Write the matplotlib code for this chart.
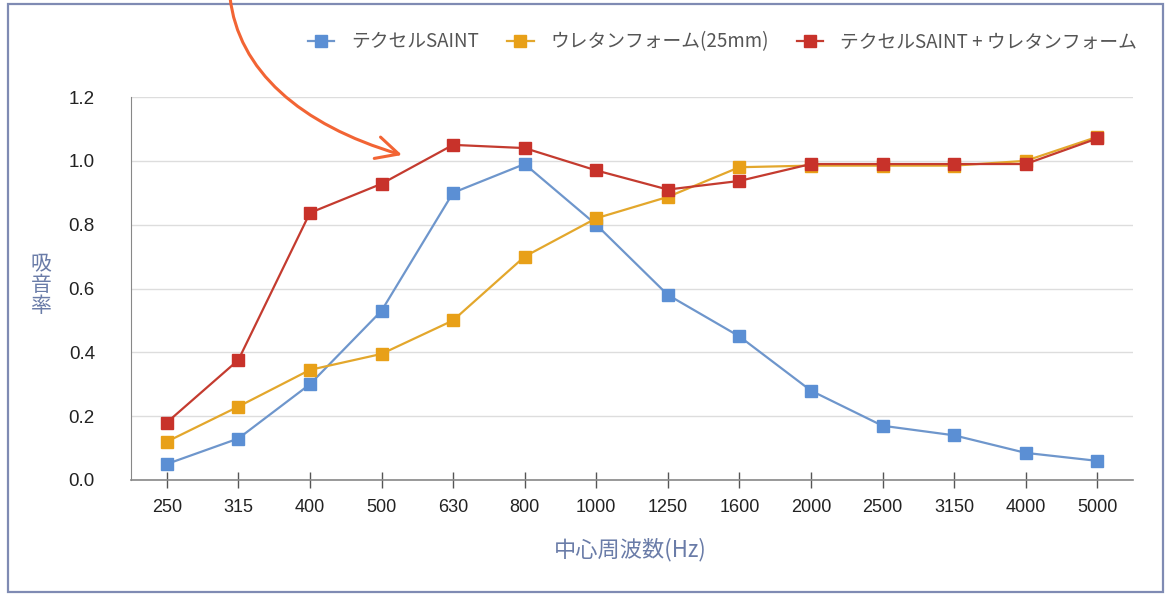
import matplotlib
matplotlib.use('Agg')
import matplotlib.pyplot as plt
from matplotlib.lines import Line2D
from matplotlib.patches import Rectangle, FancyArrowPatch
from matplotlib.path import Path

plt.rcParams['font.family'] = ['Noto Sans CJK JP', 'DejaVu Sans']

# data
freqs = ['250', '315', '400', '500', '630', '800', '1000', '1250',
         '1600', '2000', '2500', '3150', '4000', '5000']
saint = [0.05, 0.13, 0.30, 0.53, 0.90, 0.99, 0.80, 0.58,
         0.45, 0.28, 0.17, 0.14, 0.085, 0.06]
urethane = [0.12, 0.23, 0.345, 0.395, 0.50, 0.70, 0.82, 0.887,
            0.98, 0.985, 0.985, 0.985, 1.0, 1.075]
combined = [0.18, 0.376, 0.837, 0.928, 1.05, 1.04, 0.97, 0.91,
            0.937, 0.99, 0.99, 0.99, 0.99, 1.07]

labels = ['テクセルSAINT', 'ウレタンフォーム(25mm)', 'テクセルSAINT + ウレタンフォーム']
line_colors = ['#6e96cc', '#e3a72c', '#c43b2f']
marker_colors = ['#5b8fd4', '#e8a018', '#c8322a']
series = [saint, urethane, combined]

W, H = 1171, 594
fig = plt.figure(figsize=(W / 100, H / 100), dpi=100)
ax = fig.add_axes([131 / W, 1 - 480 / H, (1133 - 131) / W, (480 - 97) / H])

x = list(range(len(freqs)))
for vals, lc, mc in zip(series, line_colors, marker_colors):
    ax.plot(x, vals, color=lc, lw=1.6, marker='s', markersize=9,
            markerfacecolor=mc, markeredgecolor=mc, zorder=3)

ax.set_xlim(-0.5, len(freqs) - 0.5)
ax.set_ylim(0, 1.2)
ax.set_yticks([0.0, 0.2, 0.4, 0.6, 0.8, 1.0, 1.2])
ax.set_yticklabels(['0.0', '0.2', '0.4', '0.6', '0.8', '1.0', '1.2'],
                   family='Liberation Sans', fontsize=13.5, color='#222222')
ax.set_xticks(x)
ax.set_xticklabels(freqs, family='Liberation Sans', fontsize=13, color='#222222')
ax.tick_params(axis='y', length=0, pad=26)
ax.tick_params(axis='x', direction='inout', length=12, width=1, color='#555555', pad=8)
ax.grid(axis='y', color='#dddddd', lw=1)
ax.set_axisbelow(True)
for s in ['top', 'right']:
    ax.spines[s].set_visible(False)
ax.spines['left'].set_color('#888888')
ax.spines['bottom'].set_color('#888888')
ax.spines['bottom'].set_linewidth(1.2)

# axis titles
fig.text(41 / W, 1 - 285 / H, '吸\n音\n率', ha='center', va='center',
         fontsize=15, color='#6a7ca8', linespacing=0.95)
fig.text(630 / W, 1 - 550 / H, '中心周波数(Hz)', ha='center', va='center',
         fontsize=16, color='#6a7ca8')

# legend
handles = [Line2D([0], [0], color=lc, lw=1.6, marker='s', markersize=8,
                  markerfacecolor=mc, markeredgecolor=mc)
           for lc, mc in zip(line_colors, marker_colors)]
fig.legend(handles, labels, loc='center right', bbox_to_anchor=(1137 / W, 1 - 42 / H),
           ncol=3, frameon=False, fontsize=13.5, handlelength=1.4, handletextpad=0.9,
           columnspacing=1.5, borderaxespad=0, borderpad=0, labelcolor='#555555')

# outer frame
fig.patches.append(Rectangle((8 / W, 2 / H), 1155 / W, 588 / H,
                             transform=fig.transFigure, fill=False,
                             edgecolor='#7f8bb3', lw=1.6))

# orange annotation arrow (cubic curve from the top edge)
pts = [(230, -3), (238, 70), (300, 125), (402, 155)]
path = Path([(px / W, 1 - py / H) for px, py in pts],
            [Path.MOVETO, Path.CURVE4, Path.CURVE4, Path.CURVE4])
arrow = FancyArrowPatch(path=path, transform=fig.transFigure,
                        arrowstyle='->,head_length=16,head_width=8',
                        color='#f26434', lw=2.2)
fig.patches.append(arrow)

fig.savefig('out.png', dpi=100)
